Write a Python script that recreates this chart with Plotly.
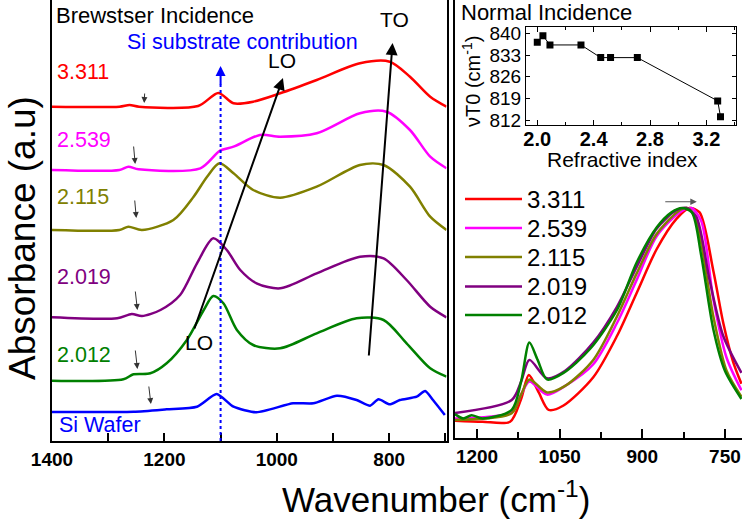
import plotly.graph_objects as go

# ---------------- data: left panel (Brewster incidence, offset spectra) ----------------
wn_3311 = [1400, 1280, 1262, 1245, 1140, 1104, 1077, 1042, 994, 929, 852, 799, 763, 727, 698]
ab_3311 = [3.343, 3.343, 3.36, 3.343, 3.35, 3.48, 3.377, 3.393, 3.477, 3.61, 3.777, 3.793, 3.643, 3.443, 3.343]

wn_2539 = [1400, 1280, 1264, 1246, 1136, 1101, 1077, 1030, 994, 929, 852, 805, 763, 727, 698]
ab_2539 = [2.71, 2.71, 2.743, 2.717, 2.727, 2.903, 2.943, 3.06, 3.043, 3.077, 3.277, 3.293, 3.11, 2.843, 2.727]

wn_2115 = [1400, 1280, 1264, 1240, 1184, 1148, 1124, 1102, 1077, 1042, 994, 929, 852, 810, 763, 727, 698]
ab_2115 = [2.11, 2.11, 2.143, 2.11, 2.21, 2.443, 2.643, 2.777, 2.677, 2.51, 2.433, 2.543, 2.76, 2.76, 2.543, 2.243, 2.11]

wn_2019 = [1400, 1284, 1258, 1240, 1207, 1172, 1142, 1113, 1089, 1065, 1036, 994, 929, 852, 810, 769, 727, 698]
ab_2019 = [1.237, 1.227, 1.27, 1.25, 1.31, 1.46, 1.777, 2.027, 1.91, 1.71, 1.577, 1.527, 1.677, 1.843, 1.827, 1.61, 1.343, 1.237]

wn_2012 = [1400, 1273, 1255, 1225, 1196, 1160, 1130, 1113, 1095, 1071, 1042, 994, 929, 858, 810, 769, 727, 698]
ab_2012 = [0.603, 0.617, 0.667, 0.677, 0.777, 1.01, 1.31, 1.45, 1.377, 1.11, 0.96, 0.927, 1.077, 1.227, 1.21, 0.977, 0.727, 0.643]

wn_si = [1400, 1255, 1196, 1142, 1107, 1077, 1036, 971, 935, 893, 858, 834, 819, 799, 781, 751, 736, 722, 701]
ab_si = [0.29, 0.293, 0.317, 0.343, 0.47, 0.343, 0.287, 0.377, 0.377, 0.453, 0.41, 0.353, 0.417, 0.367, 0.41, 0.443, 0.50, 0.41, 0.26]

# ---------------- data: right panel (normal incidence, normalised) ----------------
nwn_3311 = [1240, 1190, 1140, 1120, 1106, 1088, 1070, 1043, 989, 946, 910, 874, 838, 814, 796, 771, 753, 735, 720]
nab_3311 = [0.02, 0.015, 0.015, 0.12, 0.23, 0.15, 0.07, 0.09, 0.22, 0.41, 0.61, 0.81, 0.95, 1.0, 0.98, 0.71, 0.47, 0.29, 0.19]

nwn_2539 = [1240, 1137, 1120, 1105, 1073, 1040, 989, 946, 910, 874, 832, 811, 793, 771, 747, 720]
nab_2539 = [0.03, 0.06, 0.14, 0.20, 0.14, 0.18, 0.28, 0.47, 0.67, 0.87, 0.98, 1.0, 0.94, 0.58, 0.31, 0.16]

nwn_2115 = [1240, 1137, 1120, 1105, 1073, 1040, 989, 946, 910, 874, 832, 817, 802, 771, 747, 720]
nab_2115 = [0.023, 0.054, 0.14, 0.21, 0.15, 0.18, 0.30, 0.50, 0.70, 0.88, 0.99, 1.0, 0.94, 0.50, 0.25, 0.13]

nwn_2019 = [1240, 1137, 1120, 1105, 1073, 1040, 989, 946, 910, 874, 838, 820, 802, 778, 753, 720]
nab_2019 = [0.055, 0.115, 0.2, 0.30, 0.215, 0.25, 0.38, 0.545, 0.73, 0.905, 0.99, 1.0, 0.96, 0.67, 0.41, 0.24]

nwn_2012 = [1240, 1225, 1210, 1190, 1137, 1120, 1105, 1090, 1073, 1043, 995, 946, 910, 874, 847, 828, 810, 793, 771, 750, 720]
nab_2012 = [0.05, 0.03, 0.045, 0.03, 0.07, 0.2, 0.38, 0.3, 0.21, 0.24, 0.35, 0.53, 0.75, 0.91, 0.98, 1.0, 0.98, 0.78, 0.44, 0.25, 0.12]

# ---------------- data: inset (TO position vs refractive index) ----------------
ref_index = [2.0, 2.04, 2.09, 2.31, 2.45, 2.52, 2.71, 3.28, 3.30]
nu_to = [837.2, 839.3, 836.3, 836.3, 832.2, 832.2, 832.2, 818.2, 813.1]

labels = ["3.311", "2.539", "2.115", "2.019", "2.012"]
colors = ["#FF0000", "#FF00FF", "#808000", "#800080", "#008000"]

FONT = "Arial, Liberation Sans, sans-serif"
W, H = 742, 522

fig = go.Figure()

# left panel spectra
left = [(wn_3311, ab_3311), (wn_2539, ab_2539), (wn_2115, ab_2115),
        (wn_2019, ab_2019), (wn_2012, ab_2012)]
for (x, y), c in zip(left, colors):
    fig.add_trace(go.Scatter(x=x, y=y, mode="lines", line=dict(color=c, width=2.5, shape="spline", smoothing=0.8),
                             xaxis="x", yaxis="y", showlegend=False))
fig.add_trace(go.Scatter(x=wn_si, y=ab_si, mode="lines", line=dict(color="#0000FF", width=2.5, shape="spline", smoothing=0.6),
                         xaxis="x", yaxis="y", showlegend=False))

# right panel spectra
right = [(nwn_3311, nab_3311), (nwn_2539, nab_2539), (nwn_2115, nab_2115),
         (nwn_2019, nab_2019), (nwn_2012, nab_2012)]
for (x, y), c in zip(right, colors):
    fig.add_trace(go.Scatter(x=x, y=y, mode="lines", line=dict(color=c, width=2.5, shape="spline", smoothing=0.8),
                             xaxis="x2", yaxis="y2", showlegend=False))

# inset
fig.add_trace(go.Scatter(x=ref_index, y=nu_to, mode="lines+markers",
                         line=dict(color="black", width=1),
                         marker=dict(symbol="square", size=7, color="black"),
                         xaxis="x3", yaxis="y3", showlegend=False))

def axis(**kw):
    base = dict(showline=True, linecolor="black", linewidth=1.5, showgrid=False, zeroline=False,
                ticks="inside", tickcolor="black", automargin=False)
    base.update(kw)
    return base

fig.update_layout(
    width=W, height=H, margin=dict(l=0, r=0, t=0, b=0, autoexpand=False),
    paper_bgcolor="white", plot_bgcolor="white",
    font=dict(family=FONT, color="black"),
    xaxis=axis(domain=[52 / W, 446.5 / W], range=[1400, 698], anchor="y", mirror=True,
               tickvals=[1400, 1200, 1000, 800], ticklen=8, tickwidth=1.5,
               tickfont=dict(size=19, weight="bold"),
               minor=dict(dtick=100, tick0=1300, ticks="inside", ticklen=8, tickcolor="black")),
    yaxis=axis(domain=[81 / H, 1], range=[0, 4.41], anchor="x", mirror=True,
               showticklabels=False, tickvals=[]),
    xaxis2=axis(domain=[455 / W, 1], range=[1240, 719], anchor="y2", mirror=True,
                tickvals=[1200, 1050, 900, 750], ticklen=9, tickwidth=1.5,
                tickfont=dict(size=19, weight="bold"),
                minor=dict(dtick=150, tick0=1125, ticks="inside", ticklen=6, tickcolor="black")),
    yaxis2=axis(domain=[84 / H, 1], range=[-0.06, 1.959], anchor="x2",
                showticklabels=False, tickvals=[]),
    xaxis3=axis(domain=[526 / W, 736 / W], range=[1.92, 3.41], anchor="y3", mirror="ticks",
                tickvals=[2.0, 2.4, 2.8, 3.2], ticktext=["2.0", "2.4", "2.8", "3.2"], ticklen=5, linewidth=1,
                tickfont=dict(size=20, weight="bold"), ticklabelstandoff=-4,
                minor=dict(dtick=0.2, tick0=2.2, ticks="inside", ticklen=3, tickcolor="black")),
    yaxis3=axis(domain=[(H - 125) / H, (H - 26.7) / H], range=[810.4, 842.2], anchor="x3", mirror="ticks",
                tickvals=[812, 819, 826, 833, 840], ticklen=4, linewidth=1,
                tickfont=dict(size=19)),
)


def text(x, y, s, size, color="black", angle=0, xanchor="center"):
    # positions given in figure pixels from the top-left corner
    fig.add_annotation(x=x / W, y=(H - y) / H, xref="paper", yref="paper", text=s, showarrow=False,
                       xanchor=xanchor, yanchor="middle", textangle=angle,
                       font=dict(size=size, color=color))


# big shared axis titles
text(436, 497, "Wavenumber (cm<sup>-1</sup>)", 35)
text(23, 238, "Absorbance (a.u)", 37, angle=-90)

# left panel text
text(54, 15, "Brewstser Incidence", 22, xanchor="left")
text(242, 42, "Si substrate contribution", 21.5, color="#0000FF")
sample_y = [72, 140, 197, 277, 355]
for lab, c, yy in zip(labels, colors, sample_y):
    text(55, yy, lab, 21.5, color=c, xanchor="left")
text(57, 425, "Si Wafer", 21.5, color="#0000FF", xanchor="left")
text(394, 20, "TO", 21)
text(282, 61, "LO", 21)
text(199, 342, "LO", 21)

# inset text
text(459, 13, "Normal Incidence", 22, xanchor="left")
text(622, 159, "Refractive index", 21)
text(471, 82, "νT0 (cm<sup>-1</sup>)", 20, angle=-90)

# LO / TO arrows
fig.add_annotation(x=989, y=3.63, ax=1147.5, ay=1.11, xref="x", yref="y", axref="x", ayref="y",
                   showarrow=True, arrowhead=2, arrowsize=1.2, arrowwidth=2, arrowcolor="black", text="")
fig.add_annotation(x=794, y=3.98, ax=836.4, ay=0.84, xref="x", yref="y", axref="x", ayref="y",
                   showarrow=True, arrowhead=2, arrowsize=1.2, arrowwidth=2, arrowcolor="black", text="")

# Si substrate dotted line
fig.add_shape(type="line", x0=1100, x1=1100, y0=0, y1=3.6, xref="x", yref="y",
              line=dict(color="#0000FF", width=2, dash="dot"))
fig.add_annotation(x=1100, y=3.75, ax=1100, ay=3.55, xref="x", yref="y", axref="x", ayref="y",
                   showarrow=True, arrowhead=2, arrowsize=1, arrowwidth=2, arrowcolor="#0000FF", text="")

# small marker arrows
small_arrows = [(1235, 3.49, 1236, 3.38), (1255, 2.96, 1252, 2.77), (1253, 2.42, 1250, 2.23),
                (1252, 1.51, 1248, 1.31), (1252, 0.92, 1248, 0.72), (1228, 0.56, 1224, 0.37)]
for ax0, ay0, x1, y1 in small_arrows:
    fig.add_annotation(x=x1, y=y1, ax=ax0, ay=ay0, xref="x", yref="y", axref="x", ayref="y",
                       showarrow=True, arrowhead=2, arrowsize=1.2, arrowwidth=1, arrowcolor="#333333", text="")

# right panel peak shift arrow
fig.add_annotation(x=801, y=1.029, ax=861, ay=1.029, xref="x2", yref="y2", axref="x2", ayref="y2",
                   showarrow=True, arrowhead=2, arrowsize=1.3, arrowwidth=1, arrowcolor="#555555", text="")

# manual legend
leg_y = [199, 228, 257, 286.5, 315]
for lab, c, yy in zip(labels, colors, leg_y):
    fig.add_shape(type="line", x0=465 / W, x1=522 / W, y0=(H - yy) / H, y1=(H - yy) / H,
                  xref="paper", yref="paper", line=dict(color=c, width=2.5))
    text(525, yy, lab, 24, xanchor="left")

fig.write_html("out.html", config={"displayModeBar": False},
               post_script="document.body.style.margin='0px';")
